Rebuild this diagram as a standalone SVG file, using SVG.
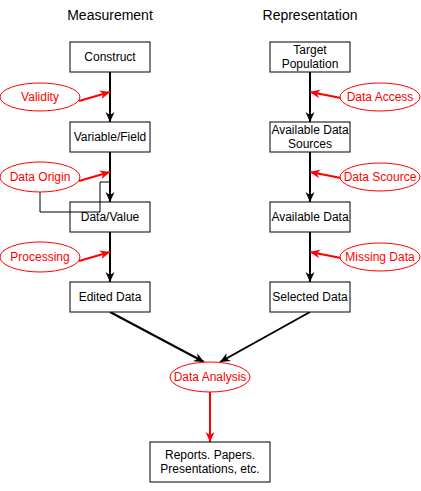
<svg xmlns="http://www.w3.org/2000/svg" width="421" height="491" viewBox="0 0 421 491">
<style>
text{font-family:"Liberation Sans",Arial,sans-serif;font-size:12px;text-anchor:middle;dominant-baseline:central;}
.box rect{fill:#fff;stroke:#000;stroke-width:1;}
.oval ellipse{fill:#fff;stroke:#ff0000;stroke-width:1;}
.oval text{fill:#ff0000;}
.title{font-size:14px;fill:#000;}
.blk{stroke:#000;stroke-width:2;fill:none;marker-end:url(#ab);}
.red{stroke:#ff0000;stroke-width:2;fill:none;marker-end:url(#ar);}
</style>
<defs>
<marker id="ab" markerUnits="userSpaceOnUse" markerWidth="11" markerHeight="10" refX="10" refY="5" orient="auto"><path d="M0,0.5 L10,5 L0,9.5 L3,5 z" fill="#000"/></marker>
<marker id="ar" markerUnits="userSpaceOnUse" markerWidth="11" markerHeight="10" refX="10" refY="5" orient="auto"><path d="M0,0.5 L10,5 L0,9.5 L3,5 z" fill="#ff0000"/></marker>
</defs>
<rect width="421" height="491" fill="#fff"/>
<text class="title" x="110" y="15">Measurement</text>
<text class="title" x="310" y="15">Representation</text>
<g id="connectors">
<line class="blk" x1="110" y1="72" x2="110" y2="122"/>
<line class="blk" x1="110" y1="152" x2="110" y2="202"/>
<line class="blk" x1="110" y1="232" x2="110" y2="282"/>
<line class="blk" x1="310" y1="72" x2="310" y2="122"/>
<line class="blk" x1="310" y1="152" x2="310" y2="202"/>
<line class="blk" x1="310" y1="232" x2="310" y2="282"/>
<line class="blk" x1="110" y1="312" x2="204" y2="362"/>
<line class="blk" x1="310" y1="312" x2="220" y2="362"/>
<line class="red" x1="210" y1="392" x2="210" y2="442"/>
<line class="red" x1="79" y1="101" x2="110" y2="92"/>
<line class="red" x1="79" y1="181" x2="110" y2="172"/>
<line class="red" x1="79" y1="261" x2="110" y2="252"/>
<line class="red" x1="341" y1="98" x2="310" y2="92"/>
<line class="red" x1="341" y1="178" x2="310" y2="172"/>
<line class="red" x1="341" y1="258" x2="310" y2="252"/>
<path d="M40,192 V212 H100 V182 H110" fill="none" stroke="#000" stroke-width="1"/>
</g>
<g id="construct" class="box"><rect x="70" y="42" width="80" height="30"/><text x="110" y="57">Construct</text></g>
<g id="variable" class="box"><rect x="70" y="122" width="80" height="30"/><text x="110" y="137">Variable/Field</text></g>
<g id="datavalue" class="box"><rect x="70" y="202" width="80" height="30" fill-opacity="0" style="fill:none"/><text x="110" y="217">Data/Value</text></g>
<g id="edited" class="box"><rect x="70" y="282" width="80" height="30"/><text x="110" y="297">Edited Data</text></g>
<g id="target" class="box"><rect x="270" y="42" width="80" height="30"/><text x="310" y="50">Target</text><text x="310" y="64">Population</text></g>
<g id="sources" class="box"><rect x="270" y="122" width="80" height="30"/><text x="310" y="130">Available Data</text><text x="310" y="144">Sources</text></g>
<g id="available" class="box"><rect x="270" y="202" width="80" height="30"/><text x="310" y="217">Available Data</text></g>
<g id="selected" class="box"><rect x="270" y="282" width="80" height="30"/><text x="310" y="297">Selected Data</text></g>
<g id="reports" class="box"><rect x="150" y="442" width="120" height="40"/><text x="210" y="455">Reports. Papers.</text><text x="210" y="469">Presentations, etc.</text></g>
<g id="validity" class="oval"><ellipse cx="40" cy="97" rx="40" ry="14"/><text x="40" y="97">Validity</text></g>
<g id="origin" class="oval"><ellipse cx="40" cy="177" rx="40" ry="15"/><text x="40" y="177">Data Origin</text></g>
<g id="processing" class="oval"><ellipse cx="40" cy="257" rx="40" ry="15"/><text x="40" y="257">Processing</text></g>
<g id="access" class="oval"><ellipse cx="380" cy="97" rx="40" ry="14"/><text x="380" y="97">Data Access</text></g>
<g id="scource" class="oval"><ellipse cx="380" cy="177" rx="40" ry="14"/><text x="380" y="177">Data Scource</text></g>
<g id="missing" class="oval"><ellipse cx="380" cy="257" rx="40" ry="14"/><text x="380" y="257">Missing Data</text></g>
<g id="analysis" class="oval"><ellipse cx="210" cy="377" rx="40" ry="15"/><text x="210" y="377">Data Analysis</text></g>
</svg>
